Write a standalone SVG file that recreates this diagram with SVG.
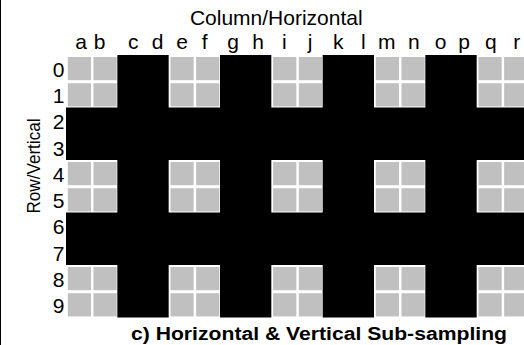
<svg xmlns="http://www.w3.org/2000/svg" width="524" height="345" viewBox="0 0 524 345">
<style>
.t{font-family:"Liberation Sans",Arial,sans-serif;font-size:21px;fill:#000}
.c{text-anchor:middle}
.r{text-anchor:end}
.b{font-weight:bold}
.k{fill:#000}
.g{fill:#c0c0c0}
</style>
<defs>
<g id="blk">
<rect class="g" x="1.8" y="2" width="23.2" height="23.2"/>
<rect class="g" x="27.47" y="2" width="23.2" height="23.2"/>
<rect class="g" x="1.8" y="28.25" width="23.2" height="23.2"/>
<rect class="g" x="27.47" y="28.25" width="23.2" height="23.2"/>
</g>
</defs>
<rect x="0" y="0" width="524" height="345" fill="#fff"/>
<rect x="0" y="0" width="1" height="345" fill="#000"/>
<g id="black-bands">
<rect class="k" x="117.33" y="55" width="51.34" height="262.5"/>
<rect class="k" x="220" y="55" width="51.33" height="262.5"/>
<rect class="k" x="322.67" y="55" width="51.33" height="262.5"/>
<rect class="k" x="425.33" y="55" width="51.34" height="262.5"/>
<rect class="k" x="66" y="107.5" width="462" height="52.5"/>
<rect class="k" x="66" y="212.5" width="462" height="52.5"/>
</g>
<g id="gray-cells">
<use href="#blk" x="66" y="55"/>
<use href="#blk" x="168.67" y="55"/>
<use href="#blk" x="271.33" y="55"/>
<use href="#blk" x="374" y="55"/>
<use href="#blk" x="476.67" y="55"/>
<use href="#blk" x="66" y="160"/>
<use href="#blk" x="168.67" y="160"/>
<use href="#blk" x="271.33" y="160"/>
<use href="#blk" x="374" y="160"/>
<use href="#blk" x="476.67" y="160"/>
<use href="#blk" x="66" y="265"/>
<use href="#blk" x="168.67" y="265"/>
<use href="#blk" x="271.33" y="265"/>
<use href="#blk" x="374" y="265"/>
<use href="#blk" x="476.67" y="265"/>
</g>
<g id="labels">
<text class="t c" x="276.3" y="25">Column/Horizontal</text>
<g class="t c">
<text x="81" y="49">a</text>
<text x="99.7" y="49">b</text>
<text x="133.3" y="49">c</text>
<text x="157.7" y="49">d</text>
<text x="182" y="49">e</text>
<text x="204.7" y="49">f</text>
<text x="233" y="49">g</text>
<text x="258" y="49">h</text>
<text x="284.3" y="49">i</text>
<text x="310" y="49">j</text>
<text x="338.3" y="49">k</text>
<text x="363.3" y="49">l</text>
<text x="386.7" y="49">m</text>
<text x="413.8" y="49">n</text>
<text x="440.5" y="49">o</text>
<text x="464.2" y="49">p</text>
<text x="490.8" y="49">q</text>
<text x="516.7" y="49">r</text>
</g>
<g class="t r">
<text x="64.5" y="76.8">0</text>
<text x="64.5" y="103.05">1</text>
<text x="64.5" y="129.3">2</text>
<text x="64.5" y="155.55">3</text>
<text x="64.5" y="181.8">4</text>
<text x="64.5" y="208.05">5</text>
<text x="64.5" y="234.3">6</text>
<text x="64.5" y="260.55">7</text>
<text x="64.5" y="286.8">8</text>
<text x="64.5" y="313.05">9</text>
</g>
<text class="t c" style="font-size:18px" transform="translate(40,166) rotate(-90)" textLength="95" lengthAdjust="spacingAndGlyphs">Row/Vertical</text>
<text class="t b" style="font-size:18px" x="131" y="340" textLength="376" lengthAdjust="spacingAndGlyphs">c) Horizontal &amp; Vertical Sub-sampling</text>
</g>
</svg>
